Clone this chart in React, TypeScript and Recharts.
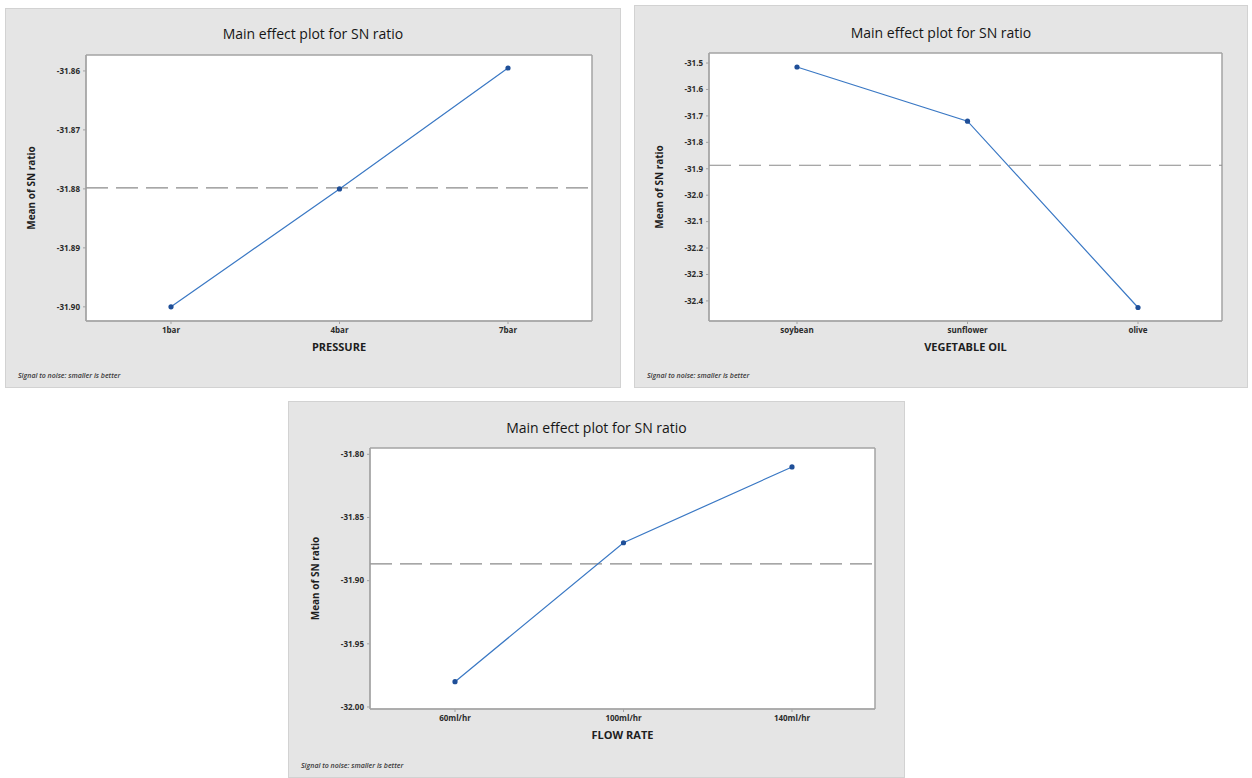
import { LineChart, Line, XAxis, YAxis, CartesianGrid, ReferenceLine } from 'recharts';

// factor levels and mean S/N ratio per level
const pressureLevels = ['1bar', '4bar', '7bar'];
const pressureSN = [-31.9, -31.88, -31.8595];
const pressureTicks = [-31.86, -31.87, -31.88, -31.89, -31.9];

const oilLevels = ['soybean', 'sunflower', 'olive'];
const oilSN = [-31.515, -31.72, -32.425];
const oilTicks = [-31.5, -31.6, -31.7, -31.8, -31.9, -32.0, -32.1, -32.2, -32.3, -32.4];

const flowLevels = ['60ml/hr', '100ml/hr', '140ml/hr'];
const flowSN = [-31.98, -31.87, -31.81];
const flowTicks = [-31.8, -31.85, -31.9, -31.95, -32.0];

const FONT = '"Open Sans", "Noto Sans", sans-serif';
const FRAME = '#a3a3a3';

interface PanelProps {
  left: number;
  top: number;
  width: number;
  height: number;
  levels: string[];
  values: number[];
  ticks: number[];
  decimals: number;
  domain: [number, number];
  xTitle: string;
  margin: { top: number; right: number; bottom: number; left: number };
  yAxisWidth: number;
  padding: { left: number; right: number };
  yLabelDx: number;
  titleY: number;
}

// grid lines only on the plot edges -> the box around the plot area
const frameRows = ({ offset }: any) => [offset.top, offset.top + offset.height];
const frameCols = ({ offset }: any) => [offset.left, offset.left + offset.width];

function MainEffectPanel(p: PanelProps) {
  const data = p.levels.map((name, i) => ({ name, sn: p.values[i] }));
  const mean = p.values.reduce((a, b) => a + b, 0) / p.values.length;
  const tickStyle = { fontSize: 8, fontWeight: 700, fill: '#2a2a2a', fontFamily: FONT };

  return (
    <div
      style={{
        position: 'absolute',
        left: p.left,
        top: p.top,
        width: p.width,
        height: p.height,
        background: '#e5e5e5',
        boxSizing: 'border-box',
        border: '1px solid #d2d2d2',
      }}
    >
      <div
        style={{
          position: 'absolute',
          top: p.titleY - 10,
          left: 0,
          width: '100%',
          textAlign: 'center',
          fontFamily: FONT,
          fontSize: 14,
          fontWeight: 500,
          color: '#151515',
          lineHeight: '20px',
        }}
      >
        Main effect plot for SN ratio
      </div>
      <LineChart width={p.width - 2} height={p.height - 2} data={data} margin={p.margin}>
        <CartesianGrid
          fill="#ffffff"
          fillOpacity={1}
          stroke={FRAME}
          strokeWidth={1.5}
          horizontalCoordinatesGenerator={frameRows}
          verticalCoordinatesGenerator={frameCols}
        />
        <XAxis
          dataKey="name"
          padding={p.padding}
          tick={tickStyle}
          tickSize={3}
          tickMargin={3}
          stroke={FRAME}
          height={20}
          interval={0}
          label={{
            value: p.xTitle,
            position: 'bottom',
            offset: 2,
            style: { fontSize: 11, fontWeight: 700, fill: '#1e1e1e', fontFamily: FONT },
          }}
        />
        <YAxis
          domain={p.domain}
          allowDataOverflow
          ticks={p.ticks}
          interval={0}
          tickFormatter={(v: number) => v.toFixed(p.decimals)}
          tick={tickStyle}
          tickSize={3}
          tickMargin={3}
          stroke={FRAME}
          width={p.yAxisWidth}
          label={{
            value: 'Mean of SN ratio',
            angle: -90,
            position: 'center',
            dx: p.yLabelDx,
            style: { fontSize: 10, fontWeight: 700, fill: '#1e1e1e', fontFamily: FONT, textAnchor: 'middle' },
          }}
        />
        <ReferenceLine y={mean} stroke="#8a8a8a" strokeWidth={1.2} strokeDasharray="22 8" />
        <Line
          type="linear"
          dataKey="sn"
          stroke="#3a78c4"
          strokeWidth={1.2}
          dot={{ r: 2.6, fill: '#1f4f98', stroke: '#1f4f98', strokeWidth: 0 }}
          isAnimationActive={false}
        />
      </LineChart>
      <div
        style={{
          position: 'absolute',
          left: 12,
          top: p.height - 18,
          fontFamily: FONT,
          fontSize: 7,
          fontStyle: 'italic',
          fontWeight: 600,
          color: '#3a3a3a',
        }}
      >
        Signal to noise: smaller is better
      </div>
    </div>
  );
}

export default function App() {
  return (
    <div style={{ position: 'absolute', left: 0, top: 0, width: 1252, height: 778, background: '#ffffff', overflow: 'hidden' }}>
      <MainEffectPanel
        left={5}
        top={8}
        width={616}
        height={380}
        levels={pressureLevels}
        values={pressureSN}
        ticks={pressureTicks}
        decimals={2}
        domain={[-31.9024, -31.8573]}
        xTitle="PRESSURE"
        margin={{ top: 46, right: 28, bottom: 46, left: 4 }}
        yAxisWidth={76}
        padding={{ left: 85, right: 84 }}
        yLabelDx={-17}
        titleY={25}
      />
      <MainEffectPanel
        left={634}
        top={5}
        width={614}
        height={383}
        levels={oilLevels}
        values={oilSN}
        ticks={oilTicks}
        decimals={1}
        domain={[-32.476, -31.462]}
        xTitle="VEGETABLE OIL"
        margin={{ top: 47, right: 25, bottom: 46, left: 4 }}
        yAxisWidth={70}
        padding={{ left: 88, right: 84 }}
        yLabelDx={-15}
        titleY={27}
      />
      <MainEffectPanel
        left={288}
        top={401}
        width={617}
        height={377}
        levels={flowLevels}
        values={flowSN}
        ticks={flowTicks}
        decimals={2}
        domain={[-32.0016, -31.795]}
        xTitle="FLOW RATE"
        margin={{ top: 46, right: 29, bottom: 48, left: 4 }}
        yAxisWidth={77}
        padding={{ left: 85, right: 83 }}
        yLabelDx={-16}
        titleY={26}
      />
    </div>
  );
}
